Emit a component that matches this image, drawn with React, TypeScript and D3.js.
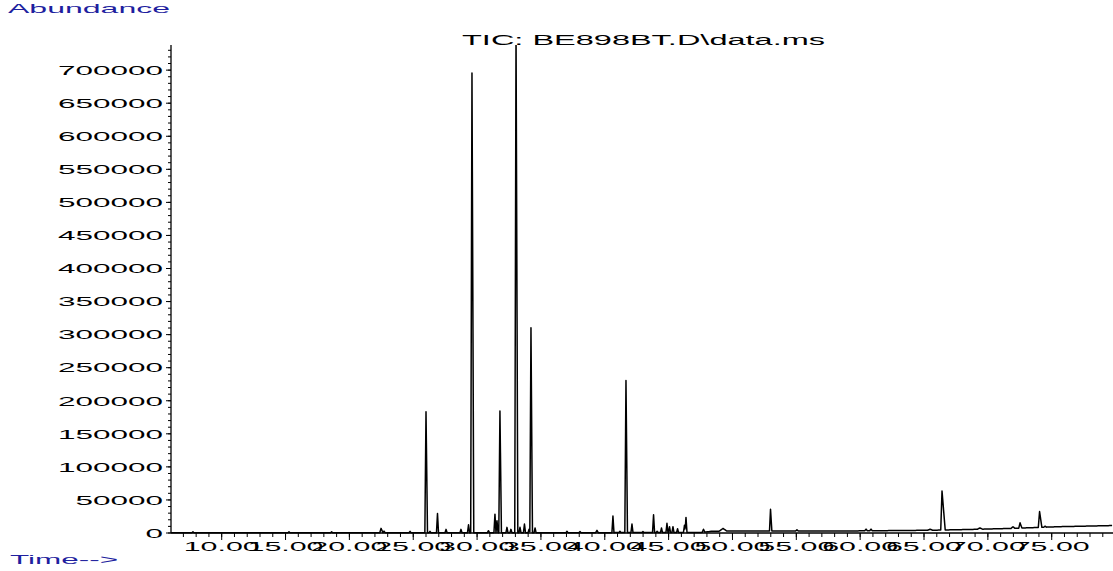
import React from "react";
import * as d3 from "d3";

// ---- data ----
const xDomain = [6.03, 79.8];
const yDomainMax = 738000;
const yMajorTicks = [0, 50000, 100000, 150000, 200000, 250000, 300000, 350000, 400000, 450000, 500000, 550000, 600000, 650000, 700000];
const xMajorTicks = [10, 15, 20, 25, 30, 35, 40, 45, 50, 55, 60, 65, 70, 75];

const baselineTimes = [6.03, 47.46, 48.48, 59.84, 63.36, 65.71, 68.92, 71.97, 75.49, 79.8];
const baselineValues = [400, 600, 2800, 3200, 3800, 4200, 5500, 7000, 9500, 11300];

const peakTimes = [
  7.75, 15.27, 18.61, 22.48, 22.71, 24.75, 26.0, 26.31, 26.9, 27.57, 28.74, 29.33, 29.6,
  30.89, 31.4, 31.56, 31.79, 32.34, 32.65, 33.05, 33.36, 33.71, 34.07, 34.22, 34.54,
  37.04, 38.06, 39.39, 40.64, 41.19, 41.66, 42.13, 42.99, 43.82, 44.1, 44.44, 44.87,
  45.07, 45.34, 45.7, 46.24, 46.36, 47.73, 49.26, 52.98, 55.05, 60.46, 60.85, 65.47,
  66.41, 69.38, 71.97, 72.52, 74.05, 74.48,
];
const peakHeights = [
  1500, 1500, 1500, 6500, 2500, 2000, 183000, 2000, 29000, 5000, 5000, 12000, 695000,
  3000, 28000, 18000, 184000, 8000, 5000, 760000, 8000, 13000, 5000, 310000, 7000,
  2000, 1500, 3500, 25000, 2000, 230000, 13000, 1500, 27000, 2000, 7000, 14000,
  9000, 9000, 6000, 11000, 23000, 4500, 4000, 33000, 2000, 2500, 2500, 1500,
  59000, 2000, 2500, 8000, 24000, 1500,
];
const peakWidths = [
  0.08, 0.08, 0.08, 0.1, 0.08, 0.08, 0.09, 0.08, 0.08, 0.08, 0.08, 0.08, 0.1,
  0.08, 0.08, 0.08, 0.09, 0.08, 0.08, 0.1, 0.08, 0.08, 0.08, 0.09, 0.08,
  0.08, 0.08, 0.1, 0.08, 0.08, 0.09, 0.08, 0.08, 0.08, 0.08, 0.08, 0.08,
  0.08, 0.08, 0.08, 0.08, 0.08, 0.1, 0.3, 0.08, 0.1, 0.1, 0.1, 0.2,
  0.1, 0.2, 0.15, 0.1, 0.1, 0.1,
];
const peakTails = [
  1, 1, 1, 1.5, 1, 1, 1.3, 1, 1, 1, 1, 1, 1.4,
  1, 1, 1, 1.3, 1, 1, 1.4, 1, 1, 1, 1.3, 1,
  1, 1, 1, 1, 1, 1.3, 1, 1, 1, 1, 1, 1,
  1, 1, 1, 1, 1, 1, 1, 1.3, 1, 1, 1, 1,
  2.5, 1, 1, 1.5, 1.8, 1,
];

// ---- layout ----
const W = 1113;
const H = 571;
const left = 171;
const right = 1113;
const top = 45;
const bottom = 533;
const FONT = "'Liberation Sans', Arial, sans-serif";

export default function App() {
  const x = d3.scaleLinear().domain(xDomain).range([left, right]);
  const y = d3.scaleLinear().domain([0, yDomainMax]).range([bottom, top]);
  const base = d3.scaleLinear().domain(baselineTimes).range(baselineValues).clamp(true);

  const value = (t: number) => {
    let v = base(t);
    for (let i = 0; i < peakTimes.length; i++) {
      const tp = peakTimes[i];
      const wl = peakWidths[i];
      const wr = peakWidths[i] * peakTails[i];
      if (t <= tp && t > tp - wl) v += peakHeights[i] * (1 - (tp - t) / wl);
      else if (t > tp && t < tp + wr) v += peakHeights[i] * (1 - (t - tp) / wr);
    }
    return v;
  };

  const ts: number[] = d3.range(xDomain[0], xDomain[1] + 1e-9, 0.1);
  peakTimes.forEach((tp, i) => {
    ts.push(tp - peakWidths[i], tp, tp + peakWidths[i] * peakTails[i]);
    if (peakTails[i] > 1.5) ts.push(tp + peakWidths[i] * 0.5, tp + peakWidths[i]);
  });
  const pts = ts
    .filter((t) => t >= xDomain[0] && t <= xDomain[1])
    .sort((a, b) => a - b)
    .map((t) => [t, value(t)] as [number, number]);

  const line = d3
    .line<[number, number]>()
    .x((d) => x(d[0]))
    .y((d) => y(d[1]));

  const yMinor = d3.range(0, yDomainMax, 10000);
  const xMinor = d3.range(7, 80, 1);

  return (
    <svg
      width={W}
      height={H}
      style={{ position: "fixed", left: 0, top: 0, background: "#fff" }}
      fontFamily={FONT}
    >
      <rect x={0} y={0} width={W} height={H} fill="#fff" />
      <defs>
        <clipPath id="plot">
          <rect x={left} y={top} width={right - left} height={bottom - top + 1} />
        </clipPath>
      </defs>

      <text x={8} y={13} fontSize={13} fill="#1f1f9f" textLength={162} lengthAdjust="spacingAndGlyphs">
        Abundance
      </text>
      <text x={10} y={564} fontSize={13} fill="#1f1f9f" textLength={108} lengthAdjust="spacingAndGlyphs">
        Time--&gt;
      </text>
      <text x={462} y={45} fontSize={14} fill="#000" textLength={363} lengthAdjust="spacingAndGlyphs">
        TIC: BE898BT.D\data.ms
      </text>

      {/* y axis */}
      <line x1={left} x2={left} y1={top} y2={bottom} stroke="#000" strokeWidth={1.3} />
      {yMinor.map((v) => (
        <line key={"ym" + v} x1={left - 3} x2={left} y1={y(v)} y2={y(v)} stroke="#000" strokeWidth={1} />
      ))}
      {yMajorTicks.map((v) => {
        const s = String(v);
        return (
          <g key={"y" + v}>
            <line x1={left - 5} x2={left} y1={y(v)} y2={y(v)} stroke="#000" strokeWidth={1} />
            <text
              x={163}
              y={y(v) + 4.8}
              fontSize={13}
              textAnchor="end"
              textLength={s.length * 17.5}
              lengthAdjust="spacingAndGlyphs"
            >
              {s}
            </text>
          </g>
        );
      })}

      {/* x axis */}
      <line x1={left} x2={right} y1={bottom} y2={bottom} stroke="#000" strokeWidth={1.3} />
      {xMinor.map((t) => (
        <line key={"xm" + t} x1={x(t)} x2={x(t)} y1={bottom} y2={bottom + 4} stroke="#000" strokeWidth={1} />
      ))}
      {xMajorTicks.map((t) => (
        <g key={"x" + t}>
          <line x1={x(t)} x2={x(t)} y1={bottom} y2={bottom + 7} stroke="#000" strokeWidth={1} />
          <text
            x={x(t) - 38}
            y={551}
            fontSize={13}
            textLength={76}
            lengthAdjust="spacingAndGlyphs"
          >
            {t.toFixed(2)}
          </text>
        </g>
      ))}

      <path
        d={line(pts) || ""}
        fill="none"
        stroke="#000"
        strokeWidth={1.5}
        strokeLinejoin="round"
        clipPath="url(#plot)"
      />
    </svg>
  );
}
